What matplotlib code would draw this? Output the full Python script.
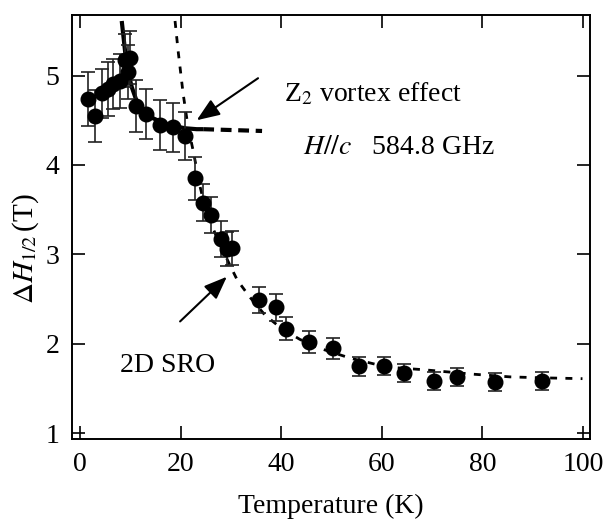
import matplotlib
matplotlib.use("Agg")
import matplotlib.pyplot as plt

plt.rcParams['font.family'] = ['Liberation Serif', 'DejaVu Serif']
plt.rcParams['mathtext.fontset'] = 'stix'

# ESR linewidth vs temperature
temp = [1.5, 3.0, 4.3, 5.6, 6.6, 8.0, 8.9, 9.5, 10.0, 11.1, 13.1, 15.9, 18.4, 20.9,
        22.9, 24.5, 26.0, 28.0, 29.3, 30.2, 35.5, 38.9, 40.9, 45.5, 50.4,
        55.5, 60.5, 64.5, 70.4, 74.9, 82.5, 91.9]
width = [4.74, 4.55, 4.80, 4.85, 4.91, 4.94, 5.17, 5.04, 5.20, 4.66, 4.57, 4.45, 4.42, 4.32,
         3.85, 3.58, 3.44, 3.17, 3.06, 3.07, 2.49, 2.41, 2.17, 2.02, 1.95,
         1.75, 1.75, 1.67, 1.58, 1.63, 1.57, 1.58]
err = [0.30, 0.29, 0.27, 0.30, 0.28, 0.30, 0.30, 0.30, 0.30, 0.29, 0.28, 0.28, 0.27, 0.27,
       0.24, 0.21, 0.20, 0.20, 0.19, 0.19, 0.15, 0.15, 0.13, 0.12, 0.12,
       0.105, 0.10, 0.10, 0.10, 0.10, 0.10, 0.10]

# Z2 vortex curve (solid part, then dashed continuation)
z2_t = [8.3, 9.3, 10.3, 11.6, 14.6, 17.9, 21.0, 23.2, 24.5]
z2_v = [5.61, 5.10, 4.87, 4.66, 4.52, 4.44, 4.41, 4.40, 4.40]
z2_ext_t = [24.5, 36.2]
z2_ext_v = [4.40, 4.38]

# 2D short range order curve
sro_t = [18.9, 19.5, 20.5, 21.5, 22.5, 23.9, 25.2, 27.2, 29.8, 31.3, 33.8, 36.8,
         40.1, 43.7, 47.1, 53.7, 61.0, 68.3, 78.2, 85.5, 91.5, 99.9]
sro_v = [5.61, 5.28, 4.80, 4.42, 4.16, 3.75, 3.46, 3.19, 2.88, 2.71, 2.52, 2.32,
         2.17, 2.05, 1.96, 1.84, 1.74, 1.71, 1.66, 1.63, 1.62, 1.61]

fig = plt.figure(figsize=(6.06, 5.26), dpi=100)
ax = fig.add_axes([0.1183, 0.1645, 0.8553, 0.8075])

ax.plot(sro_t, sro_v, color='black', lw=2.0, linestyle=(0, (2.5, 3)))
ax.plot(z2_t, z2_v, color='black', lw=3.0, solid_capstyle='butt')
ax.plot(z2_ext_t, z2_ext_v, color='black', lw=3.0, linestyle=(0, (2.6, 1.6)))

ax.errorbar(temp, width, yerr=err, fmt='o', color='black', ms=10.5,
            ecolor='#222222', elinewidth=1.2, capsize=5, capthick=1.2)

arrow = dict(arrowstyle='-|>,head_length=1.4,head_width=0.55',
             color='black', lw=1.5, shrinkA=0, shrinkB=0)
ax.annotate('', xy=(23.2, 4.50), xytext=(35.4, 4.97), arrowprops=arrow)
ax.annotate('', xy=(29.2, 2.75), xytext=(19.9, 2.25), arrowprops=arrow)

ax.text(40.6, 4.79, r'Z$_2$ vortex effect', fontsize=20, va='center', ha='left')
ax.text(44.3, 4.20, r'$H//c$   584.8 GHz', fontsize=20, va='center', ha='left')
ax.text(8.0, 1.76, '2D SRO', fontsize=20, va='center', ha='left')

ax.set_xlim(-1.65, 101.4)
ax.set_ylim(0.93, 5.68)
ax.set_xticks([0, 20, 40, 60, 80, 100])
ax.set_yticks([1, 2, 3, 4, 5])
ax.tick_params(direction='in', length=9.5, width=1.2, labelsize=20,
               top=True, right=True, pad=9)
for s in ax.spines.values():
    s.set_linewidth(1.4)

ax.set_xlabel('Temperature (K)', fontsize=20, labelpad=12)
ax.set_ylabel(r'$\Delta H_{\mathit{1/2}}\,$(T)', fontsize=21)
ax.yaxis.set_label_coords(-0.06, 0.45)

fig.savefig('out.png', dpi=100)
